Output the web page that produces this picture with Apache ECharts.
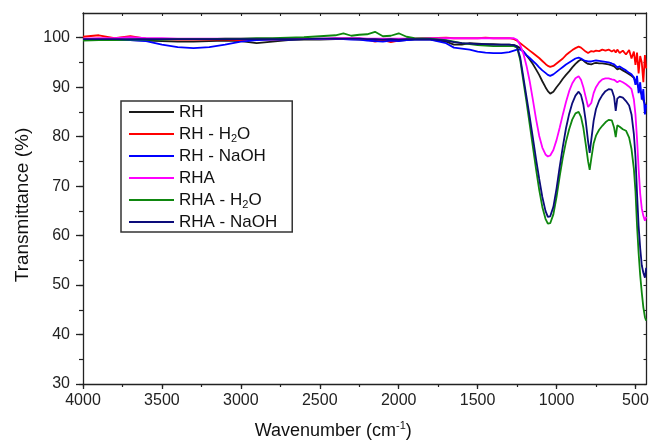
<!DOCTYPE html>
<html>
<head>
<meta charset="utf-8">
<script src="https://cdn.jsdelivr.net/npm/echarts@6/dist/echarts.min.js"></script>
<style>
html,body{margin:0;padding:0;background:#fff;}
#chart{width:649px;height:442px;}
</style>
</head>
<body>
<div id="chart"></div>
<script>
// Wavenumber grid (cm-1)
const wn = [4000,3900,3800,3700,3600,3500,3400,3300,3200,3100,3000,2900,2800,2700,2600,2500,2400,2350,2300,2250,2200,2150,2100,2050,2000,1950,1900,1800,1700,1650,1600,1550,1500,1450,1400,1350,1300,1270,1250,1230,1210,1190,1170,1150,1130,1110,1090,1070,1055,1040,1020,1000,980,960,940,920,900,880,860,845,830,815,800,790,780,765,750,730,710,690,670,650,635,625,615,600,580,560,540,525,510,500,490,480,470,460,450,440,432];

const RH = [99.6,99.6,99.6,99.5,99.4,99.3,99.2,99.2,99.3,99.4,99.3,98.9,99.2,99.5,99.6,99.6,99.7,99.7,99.7,99.6,99.6,99.4,99.3,99.5,99.4,99.5,99.6,99.6,99.2,98.6,98.6,98.9,98.8,98.7,98.7,98.6,98.6,98.5,98.3,97.9,97.2,96.4,95.6,94.7,93.6,92.5,91.2,90.0,89.2,88.7,89.1,90.0,90.8,91.7,92.5,93.2,94.0,94.7,95.3,95.6,95.4,95.0,94.7,94.5,94.6,94.8,94.9,94.8,94.8,94.7,94.6,94.4,94.2,94.1,93.6,93.8,93.4,93.0,92.6,92.3,91.9,91.3,90.8,89.9,89.2,88.5,87.4,86.6,86.0];

const RH_H2O = [100.2,100.5,99.9,100.3,99.8,99.7,99.6,99.6,99.6,99.6,99.5,99.6,99.6,99.7,99.7,99.7,99.8,99.8,99.8,99.8,99.6,99.2,99.5,99.1,99.4,99.7,99.8,99.9,100.0,99.9,99.9,99.9,99.9,100.0,99.9,99.9,99.9,99.7,99.4,98.9,98.4,97.9,97.4,96.9,96.4,95.9,95.3,94.7,94.3,94.1,94.3,94.8,95.3,95.8,96.5,97.0,97.5,97.9,98.2,98.0,97.6,97.2,96.9,97.1,97.3,97.2,97.4,97.3,97.6,97.4,97.6,97.2,97.5,97.0,97.6,96.9,97.4,96.6,97.5,95.8,97.2,94.5,97.0,92.8,96.3,95.0,91.0,96.5,93.8];

const RH_NaOH = [99.7,99.7,99.6,99.5,99.3,98.6,98.1,97.9,98.1,98.6,99.2,99.5,99.6,99.6,99.7,99.7,99.8,99.7,99.6,99.6,99.4,99.3,99.2,99.4,99.3,99.5,99.6,99.6,98.9,98.0,97.8,97.6,97.2,97.0,96.9,96.9,97.1,97.4,97.6,97.6,97.2,96.5,95.9,95.3,94.7,94.0,93.4,92.9,92.5,92.3,92.6,93.1,93.6,94.1,94.6,95.0,95.4,95.8,96.0,95.8,95.5,95.3,95.2,95.1,95.2,95.3,95.4,95.3,95.2,95.1,95.0,94.8,94.6,94.4,94.0,94.2,93.8,93.4,92.9,92.6,92.0,90.5,92.3,88.8,91.0,87.5,89.6,84.5,86.5];

const RHA = [99.8,99.9,99.9,100.1,99.9,99.9,99.8,99.8,99.8,99.8,99.8,99.8,99.8,99.8,99.8,99.8,99.9,99.9,99.9,99.9,99.8,99.8,99.8,99.8,99.8,99.8,99.8,99.9,99.9,99.9,99.9,99.9,99.9,99.9,99.9,99.9,99.9,99.9,99.6,98.5,96.8,94.3,91.2,87.5,83.6,80.2,77.8,76.4,76.0,76.2,77.3,79.3,81.8,84.5,87.0,89.2,90.8,91.8,92.2,91.5,90.0,88.0,86.0,85.6,86.8,88.8,90.0,91.0,91.6,91.8,91.8,91.6,91.5,91.4,91.0,91.3,91.0,90.6,90.1,89.6,87.5,84.5,79.5,73.5,68.5,65.5,64.0,63.0,63.8];

const RHA_H2O = [99.4,99.5,99.5,99.6,99.6,99.6,99.7,99.7,99.7,99.8,99.8,99.9,99.9,100.0,100.1,100.3,100.5,100.9,100.4,100.6,100.7,101.2,100.3,100.4,100.9,100.2,99.9,99.8,99.5,99.2,98.9,98.7,98.5,98.4,98.3,98.3,98.3,98.3,98.0,95.5,91.2,87.0,82.5,78.0,73.5,69.3,65.8,63.4,62.4,62.5,64.3,67.8,72.0,75.8,79.0,81.5,83.5,84.7,85.0,84.0,81.8,78.5,75.0,73.3,75.5,78.6,80.2,81.4,82.2,82.9,83.4,83.3,81.8,79.9,82.3,82.0,81.5,81.2,79.8,77.5,73.5,69.0,62.0,56.5,52.0,48.5,45.5,43.5,42.8];

const RHA_NaOH = [99.7,99.7,99.7,99.7,99.7,99.7,99.7,99.7,99.7,99.7,99.7,99.7,99.7,99.7,99.7,99.8,99.8,99.8,99.8,99.8,99.7,99.7,99.6,99.7,99.6,99.7,99.7,99.7,99.4,99.1,98.9,98.8,98.7,98.7,98.6,98.6,98.6,98.5,98.2,96.0,92.0,88.0,84.0,79.8,75.5,71.5,67.8,65.0,63.8,63.9,65.8,69.5,73.9,78.0,81.7,84.6,86.8,88.3,89.1,88.4,86.5,83.2,79.0,76.7,79.3,83.2,85.6,87.3,88.4,89.2,89.6,89.5,88.0,85.2,87.7,88.1,87.9,87.2,86.3,84.5,80.5,76.0,68.5,62.0,57.5,54.0,52.5,51.5,53.5];

const seriesNames = ['RH','RH - H2O','RH - NaOH','RHA','RHA - H2O','RHA - NaOH'];
const seriesData = [RH, RH_H2O, RH_NaOH, RHA, RHA_H2O, RHA_NaOH];
const seriesColors = ['#1a1a1a','#ff0000','#0000ff','#ff00ff','#0f870f','#0c0c7a'];

const xLabelTicks = [500,1000,1500,2000,2500,3000,3500,4000];
const xMinorTicks = [500,750,1000,1250,1500,1750,2000,2250,2500,2750,3000,3250,3500,3750,4000];
const yLabelTicks = [30,40,50,60,70,80,90,100];
const yMinorTicks = [30,35,40,45,50,55,60,65,70,75,80,85,90,95,100];

const FONT = 'Liberation Sans, Arial, sans-serif';
const AX = '#222';

const chart = echarts.init(document.getElementById('chart'));

const baseX = {type:'value', inverse:true, min:430, max:4000, splitLine:{show:false}, gridIndex:0};
const baseY = {type:'value', min:30, max:105, splitLine:{show:false}, gridIndex:0};
const plain = function(v){ return String(v); };

chart.setOption({
  animation:false,
  backgroundColor:'#fff',
  grid:{left:83, right:2.5, top:13, bottom:58, containLabel:false, outerBoundsMode:'none'},
  legend:{
    orient:'vertical', left:121, top:101,
    padding:[1,15,0,8],
    itemGap:2, itemWidth:45, itemHeight:2, icon:'rect',
    borderColor:'#333', borderWidth:1.5, backgroundColor:'#fff',
    data:seriesNames,
    formatter:function(n){ return n.replace('H2O','H{sub|2}O'); },
    textStyle:{fontFamily:FONT, fontSize:17, color:'#111', lineHeight:20,
      rich:{sub:{fontFamily:FONT, fontSize:11, color:'#111', lineHeight:11, verticalAlign:'bottom'}}}
  },
  xAxis:[
    Object.assign({}, baseX, {
      position:'bottom',
      axisLine:{show:true, onZero:false, lineStyle:{color:AX, width:1.3}},
      axisTick:{show:true, customValues:xLabelTicks, length:5, lineStyle:{color:AX, width:1.3}},
      axisLabel:{show:true, customValues:xLabelTicks, formatter:plain, fontFamily:FONT, fontSize:16, color:AX, margin:9},
      name:'Wavenumber (cm{sup|-1})', nameLocation:'middle', nameGap:36,
      nameTextStyle:{fontFamily:FONT, fontSize:18, color:'#111', lineHeight:22, padding:[0,63,0,0],
        rich:{sup:{fontFamily:FONT, fontSize:11, color:'#111', lineHeight:11, verticalAlign:'top'}}}
    }),
    Object.assign({}, baseX, {
      position:'bottom',
      axisLine:{show:false, onZero:false},
      axisTick:{show:true, customValues:xMinorTicks, length:3, lineStyle:{color:AX, width:1.2}},
      axisLabel:{show:false}
    }),
    Object.assign({}, baseX, {
      position:'top',
      axisLine:{show:true, onZero:false, lineStyle:{color:AX, width:1.3}},
      axisTick:{show:true, inside:true, customValues:xMinorTicks, length:3, lineStyle:{color:AX, width:1.1}},
      axisLabel:{show:false}
    })
  ],
  yAxis:[
    Object.assign({}, baseY, {
      position:'left',
      axisLine:{show:true, onZero:false, lineStyle:{color:AX, width:1.3}},
      axisTick:{show:true, customValues:yLabelTicks, length:7, lineStyle:{color:AX, width:1.3}},
      axisLabel:{show:true, customValues:yLabelTicks, formatter:plain, fontFamily:FONT, fontSize:16, color:AX, margin:13},
      name:'Transmittance (%)', nameLocation:'middle', nameGap:50,
      nameTextStyle:{fontFamily:FONT, fontSize:19, color:'#111', padding:[0,13,0,0]}
    }),
    Object.assign({}, baseY, {
      position:'left',
      axisLine:{show:false, onZero:false},
      axisTick:{show:true, customValues:yMinorTicks, length:4, lineStyle:{color:AX, width:1.2}},
      axisLabel:{show:false}
    }),
    Object.assign({}, baseY, {
      position:'right',
      axisLine:{show:true, onZero:false, lineStyle:{color:AX, width:1.3}},
      axisTick:{show:true, inside:true, customValues:yMinorTicks, length:3, lineStyle:{color:AX, width:1.1}},
      axisLabel:{show:false}
    })
  ],
  series: seriesNames.map(function(name, i){
    return {
      name:name, type:'line', xAxisIndex:0, yAxisIndex:0,
      showSymbol:false, symbol:'none',
      lineStyle:{color:seriesColors[i], width:1.8},
      itemStyle:{color:seriesColors[i]},
      data: wn.map(function(w, j){ return [w, seriesData[i][j]]; })
    };
  })
});
</script>
</body>
</html>
